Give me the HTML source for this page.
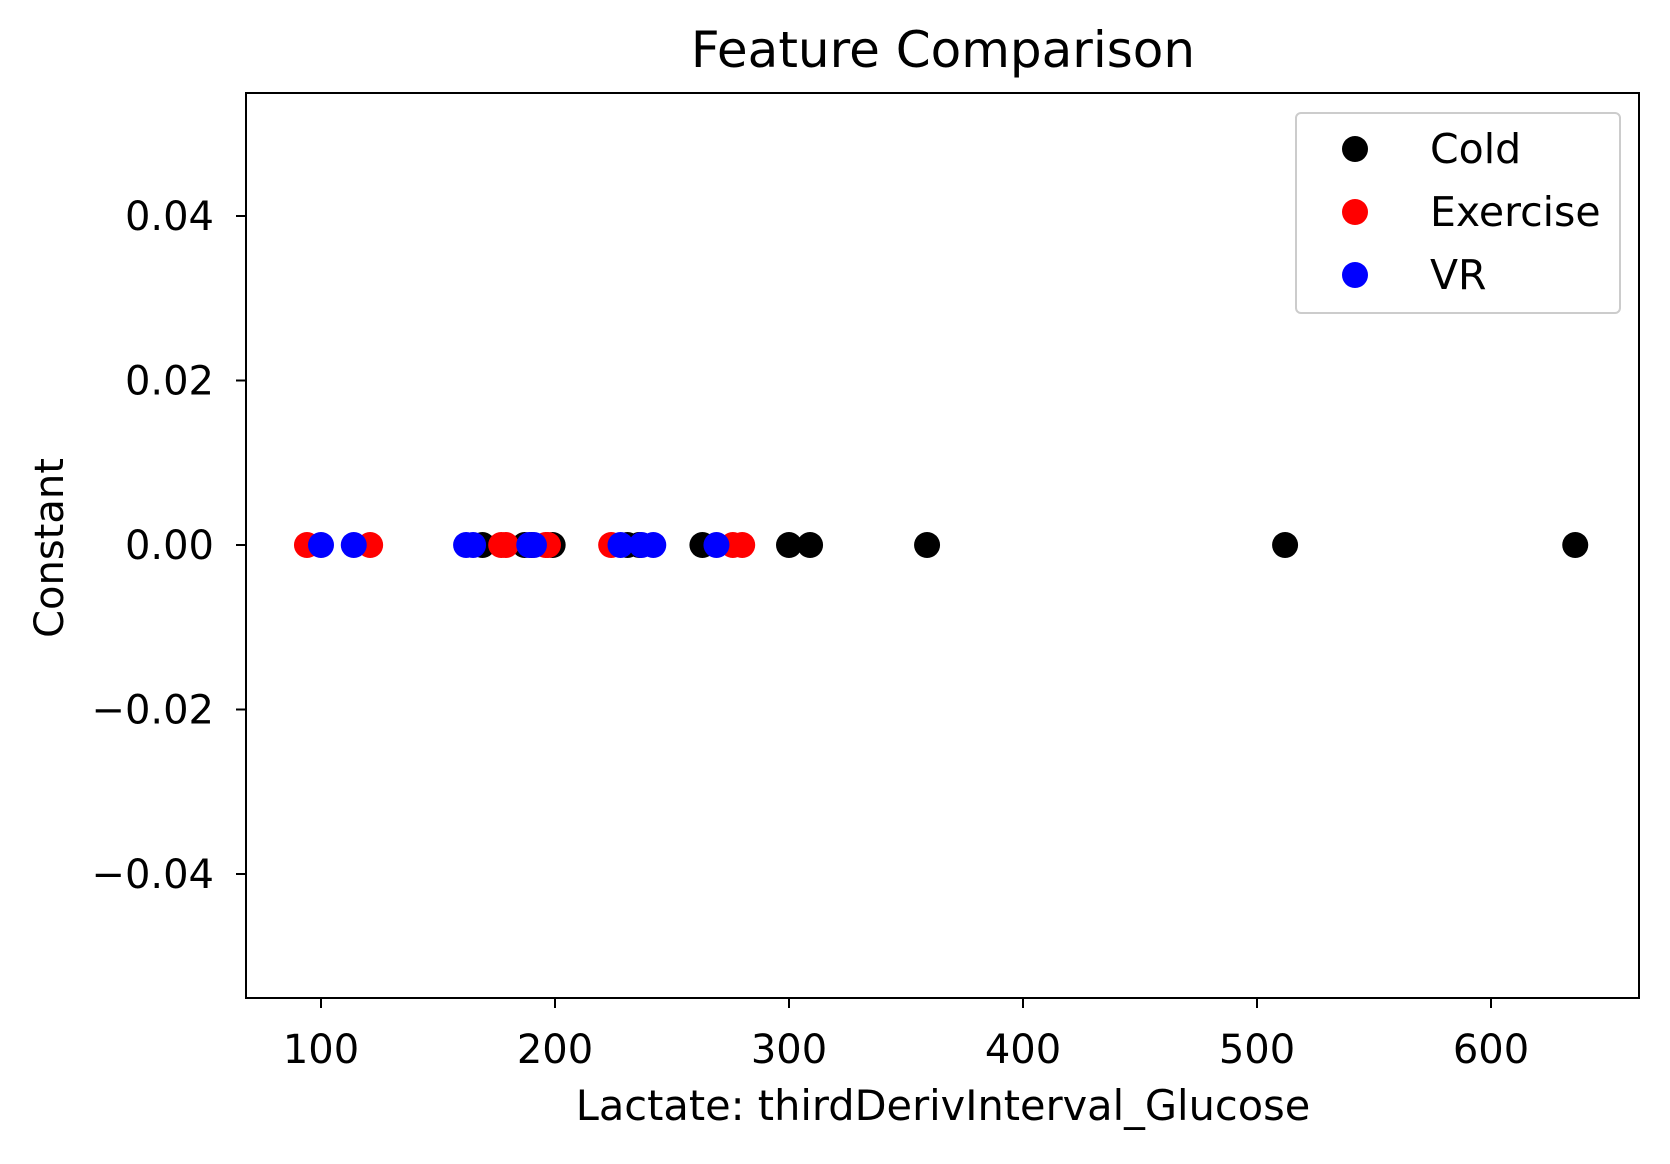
<!DOCTYPE html>
<html><head><meta charset="utf-8"><style>
body{margin:0;background:#fff}
svg text{font-family:"DejaVu Sans","Liberation Sans",sans-serif;fill:#000}
</style></head><body>
<svg id="chart" width="1670" height="1159">
<text x="943" y="67" font-size="50" text-anchor="middle">Feature Comparison</text>
<g id="marks"></g>
<rect x="246" y="93" width="1393" height="905" fill="none" stroke="#000" stroke-width="2"/>
<g id="axes"></g>
<text x="943" y="1120" font-size="41.5" text-anchor="middle">Lactate: thirdDerivInterval_Glucose</text>
<text transform="translate(63,548) rotate(-90)" font-size="40" text-anchor="middle">Constant</text>
<g>
<rect x="1296" y="113" width="324" height="200" rx="5" fill="#fff" stroke="#ccc" stroke-width="2"/>
<circle cx="1355" cy="149" r="13" fill="#000"/>
<text x="1430" y="163" font-size="41">Cold</text>
<circle cx="1355" cy="212" r="13" fill="#f00"/>
<text x="1430" y="226" font-size="41">Exercise</text>
<circle cx="1355" cy="275" r="13" fill="#00f"/>
<text x="1430" y="289" font-size="41">VR</text>
</g>
</svg>
<script>
const coldX=[169,187,190,199,231,236,263,300,309,359,512,636];
const exerciseX=[94,121,177,179,196,197,224,276,280];
const vrX=[100,114,162,165,189,191,228,237,242,269];
const xTicks=[100,200,300,400,500,600];
const yTicks=[0.04,0.02,0.00,-0.02,-0.04];
const yTickLabels=["0.04","0.02","0.00","\u22120.02","\u22120.04"];
const NS="http://www.w3.org/2000/svg";
function xs(v){return 321+(v-100)*2.34;}
function ys(v){return 545-v*8225;}
const marks=document.getElementById('marks');
function series(arr,color,name){
  arr.forEach(function(v){
    const c=document.createElementNS(NS,'circle');
    c.setAttribute('cx',xs(v));c.setAttribute('cy',ys(0));c.setAttribute('r',13);c.setAttribute('fill',color);
    
    
    marks.appendChild(c);
  });
}
series(coldX,'#000','cold');series(exerciseX,'#f00','exercise');series(vrX,'#00f','vr');
const axes=document.getElementById('axes');
xTicks.forEach(function(t){
  const l=document.createElementNS(NS,'line');
  l.setAttribute('x1',xs(t));l.setAttribute('x2',xs(t));l.setAttribute('y1',998);l.setAttribute('y2',1008);l.setAttribute('stroke','#000');l.setAttribute('stroke-width',2);
  
  
  axes.appendChild(l);
  const tx=document.createElementNS(NS,'text');
  tx.setAttribute('x',xs(t));tx.setAttribute('y',1063);tx.setAttribute('font-size',40);tx.setAttribute('text-anchor','middle');
  tx.textContent=t;
  
  
  axes.appendChild(tx);
});
yTicks.forEach(function(t,i){
  const l=document.createElementNS(NS,'line');
  l.setAttribute('x1',236);l.setAttribute('x2',246);l.setAttribute('y1',ys(t));l.setAttribute('y2',ys(t));l.setAttribute('stroke','#000');l.setAttribute('stroke-width',2);
  
  
  axes.appendChild(l);
  const tx=document.createElementNS(NS,'text');
  tx.setAttribute('x',214);tx.setAttribute('y',ys(t)+14);tx.setAttribute('font-size',40);tx.setAttribute('text-anchor','end');
  tx.textContent=yTickLabels[i];
  
  
  axes.appendChild(tx);
});
</script>
</body></html>
